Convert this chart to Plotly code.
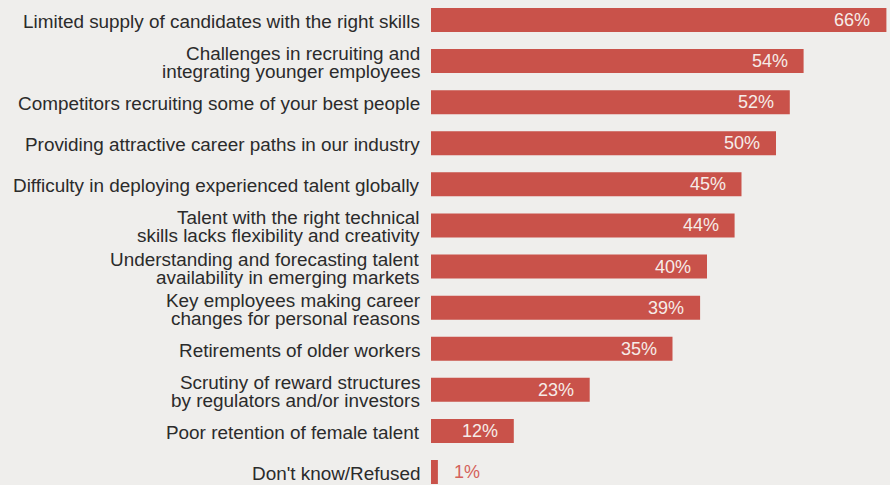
import plotly.graph_objects as go

# Survey responses: share of respondents citing each talent challenge
labels = [
    "Limited supply of candidates with the right skills",
    "Challenges in recruiting and|integrating younger employees",
    "Competitors recruiting some of your best people",
    "Providing attractive career paths in our industry",
    "Difficulty in deploying experienced talent globally",
    "Talent with the right technical|skills lacks flexibility and creativity",
    "Understanding and forecasting talent|availability in emerging markets",
    "Key employees making career|changes for personal reasons",
    "Retirements of older workers",
    "Scrutiny of reward structures|by regulators and/or investors",
    "Poor retention of female talent",
    "Don't know/Refused",
]
values = [66, 54, 52, 50, 45, 44, 40, 39, 35, 23, 12, 1]

BAR = "#c9524a"
BG = "#efeeec"
TEXT = "#2b2b2b"
FONT = "Liberation Sans, Arial, Helvetica, sans-serif"

idx = list(range(len(values)))

fig = go.Figure(
    go.Bar(
        x=values,
        y=idx,
        orientation="h",
        marker=dict(color=BAR, line=dict(width=0)),
        width=0.584,
        hoverinfo="skip",
    )
)

annotations = []
# Category labels, right-aligned against the bars, one annotation per line
line_gap = 18
for i, lab in enumerate(labels):
    lines = lab.split("|")
    n = len(lines)
    for k, line in enumerate(lines):
        shift = ((n - 1) / 2 - k) * line_gap
        annotations.append(
            dict(
                x=0, xref="paper", y=i, yref="y",
                text=line, showarrow=False,
                xanchor="right", yanchor="middle",
                xshift=-9, yshift=shift - 1.5,
                font=dict(family=FONT, size=18.9, color=TEXT),
            )
        )

# Value labels: inside the bar end, or just outside for tiny bars
for i, v in enumerate(values):
    inside = v >= 5
    annotations.append(
        dict(
            x=v, xref="x", y=i, yref="y",
            text=f"{v}%", showarrow=False,
            xanchor="right" if inside else "left",
            yanchor="middle",
            xshift=-14 if inside else 14,
            font=dict(family=FONT, size=18,
                      color="#f6ece8" if inside else "#d4625b"),
        )
    )

fig.update_layout(
    width=890,
    height=485,
    margin=dict(l=431, r=0, t=0, b=0),
    paper_bgcolor=BG,
    plot_bgcolor=BG,
    showlegend=False,
    annotations=annotations,
    xaxis=dict(range=[0, 459 / 6.9], visible=False, fixedrange=True),
    yaxis=dict(
        range=[(485 - 20) / 41.09, -20 / 41.09],
        visible=False,
        fixedrange=True,
    ),
)

fig.write_html("out.html", config={"displayModeBar": False})
